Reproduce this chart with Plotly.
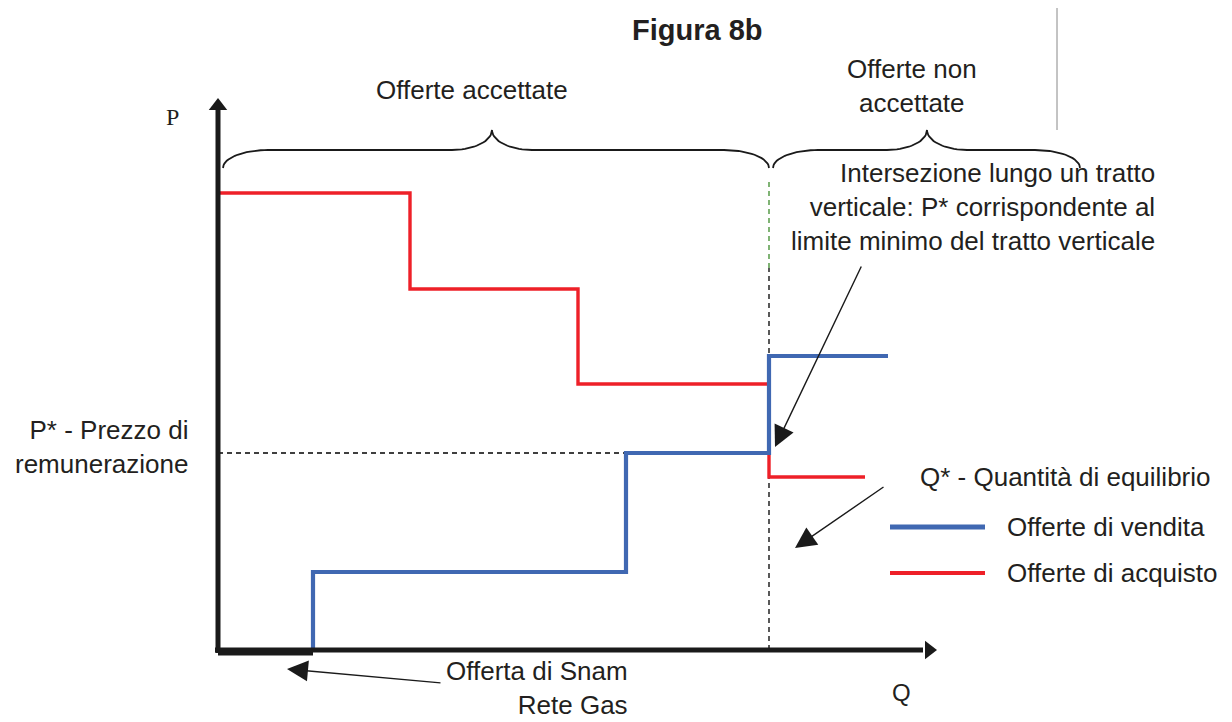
import numpy as np
import plotly.graph_objects as go

# ---- data (Q/P in diagram units, origin at the axes corner) ----
supply_q = [95, 408, 551, 670]          # Offerte di vendita (step, vertical first)
supply_p = [0, 78, 197, 294]
demand_q = [0, 192, 360, 551, 647]      # Offerte di acquisto (step, horizontal first)
demand_p = [457, 361, 266, 173, 173]
snam_q = [0, 95]                        # Offerta di Snam Rete Gas
p_star = 197
q_star = 551
q_axis_end = 705
p_axis_end = 540

title = "Figura 8b"
FONT = "Liberation Sans, Arial, sans-serif"
BLUE = "#4068B2"
RED = "#EE2028"

fig = go.Figure()

# dashed guides
fig.add_trace(go.Scatter(x=[0, q_star], y=[p_star, p_star], mode="lines",
                         line=dict(color="black", width=1.3, dash="5px,4px"), hoverinfo="skip"))
fig.add_trace(go.Scatter(x=[q_star, q_star], y=[0, 382], mode="lines",
                         line=dict(color="black", width=1.3, dash="5px,4px"), hoverinfo="skip"))
fig.add_trace(go.Scatter(x=[q_star, q_star], y=[382, 472], mode="lines",
                         line=dict(color="#3C8C2C", width=1.3, dash="5px,4px"), hoverinfo="skip"))

# demand (red) then supply (blue) on top
fig.add_trace(go.Scatter(x=demand_q, y=demand_p, mode="lines", line_shape="hv",
                         line=dict(color=RED, width=3.4), hoverinfo="skip"))
fig.add_trace(go.Scatter(x=supply_q, y=supply_p, mode="lines", line_shape="vh",
                         line=dict(color=BLUE, width=4.2), hoverinfo="skip"))

# axes
fig.add_trace(go.Scatter(x=[0, 0], y=[-3, p_axis_end], mode="lines",
                         line=dict(color="#1a1a1a", width=5), hoverinfo="skip"))
fig.add_trace(go.Scatter(x=[-3, q_axis_end], y=[0, 0], mode="lines",
                         line=dict(color="#1a1a1a", width=5), hoverinfo="skip"))
fig.add_trace(go.Scatter(x=[0], y=[p_axis_end + 4], mode="markers",
                         marker=dict(symbol="triangle-up", size=16, color="#1a1a1a"), hoverinfo="skip"))
fig.add_trace(go.Scatter(x=[q_axis_end + 6], y=[0], mode="markers",
                         marker=dict(symbol="triangle-right", size=16, color="#1a1a1a"), hoverinfo="skip"))
# Snam segment
fig.add_trace(go.Scatter(x=snam_q, y=[-2, -2], mode="lines",
                         line=dict(color="#1a1a1a", width=7), hoverinfo="skip"))

# braces
def brace(x0, x1, xm, y_end, y_flat, y_tip, r=45, r2=40):
    t = np.linspace(0, np.pi / 2, 20)
    h = y_flat - y_end
    h2 = y_tip - y_flat
    xs, ys = [], []
    xs += list(x0 + r * (1 - np.cos(t))); ys += list(y_end + h * np.sin(t))
    xs += list(xm - r2 + r2 * np.sin(t)); ys += list(y_flat + h2 * (1 - np.cos(t)))
    xs += list(xm + r2 - r2 * np.sin(t[::-1])); ys += list(y_flat + h2 * (1 - np.cos(t[::-1])))
    xs += list(x1 - r * (1 - np.cos(t[::-1]))); ys += list(y_end + h * np.sin(t[::-1]))
    return xs, ys

for (a, b, m) in [(5, 551, 274), (555, 862, 709)]:
    bx, by = brace(a, b, m, 482, 500, 520)
    fig.add_trace(go.Scatter(x=bx, y=by, mode="lines", line=dict(color="#1a1a1a", width=1.8),
                             hoverinfo="skip"))

# legend samples
fig.add_trace(go.Scatter(x=[672, 767], y=[123, 123], mode="lines",
                         line=dict(color=BLUE, width=5), hoverinfo="skip"))
fig.add_trace(go.Scatter(x=[672, 767], y=[77, 77], mode="lines",
                         line=dict(color=RED, width=4), hoverinfo="skip"))

# thin grey line top right
fig.add_trace(go.Scatter(x=[839, 839], y=[520, 645], mode="lines",
                         line=dict(color="#888888", width=1), hoverinfo="skip"))

def txt(x, y, s, size=26, xanchor="center", align="center", family=FONT, bold=False):
    if bold:
        s = "<b>" + s + "</b>"
    fig.add_annotation(x=x, y=y, text=s, showarrow=False, xanchor=xanchor, yanchor="middle",
                       align=align, font=dict(family=family, size=size, color="#231f20"))

txt(479, 620, title, size=29, bold=True)
txt(254, 560, "Offerte accettate")
txt(694, 564, "Offerte non<br>accettate")
txt(-46, 533, "P", size=24, family="Liberation Serif, Times New Roman, serif")
txt(939, 443, "Intersezione lungo un tratto<br>verticale: P* corrispondente al<br>limite minimo del tratto verticale",
    xanchor="right", align="right")
txt(-28, 203, "P* - Prezzo di<br>remunerazione", xanchor="right", align="right")
txt(700, 173, "Q* - Quantità di equilibrio", xanchor="left", align="left")
txt(787, 123, "Offerte di vendita", xanchor="left", align="left")
txt(787, 77, "Offerte di acquisto", xanchor="left", align="left")
txt(412, -38, "Offerta di Snam<br>Rete Gas", xanchor="right", align="right")
txt(683, -42, "Q", size=24)

# pointer arrows
arrows = [((557, 203), (644, 385)), ((577, 102), (667, 164)), ((69, -19), (224, -33))]
for (tip, tail) in arrows:
    fig.add_annotation(x=tip[0], y=tip[1], ax=tail[0], ay=tail[1], xref="x", yref="y",
                       axref="x", ayref="y", text="", showarrow=True, arrowhead=2,
                       arrowsize=3, arrowwidth=1.4, arrowcolor="#1a1a1a")

# page body has an 8px margin: figure is 1224x714 so it fits the 1232x722 window
fig.update_layout(width=1224, height=714, margin=dict(l=0, r=0, t=0, b=0),
                  paper_bgcolor="white", plot_bgcolor="white", showlegend=False,
                  xaxis=dict(range=[-210, 1014], visible=False, fixedrange=True),
                  yaxis=dict(range=[-72, 642], visible=False, fixedrange=True))

fig.write_html("out.html")
